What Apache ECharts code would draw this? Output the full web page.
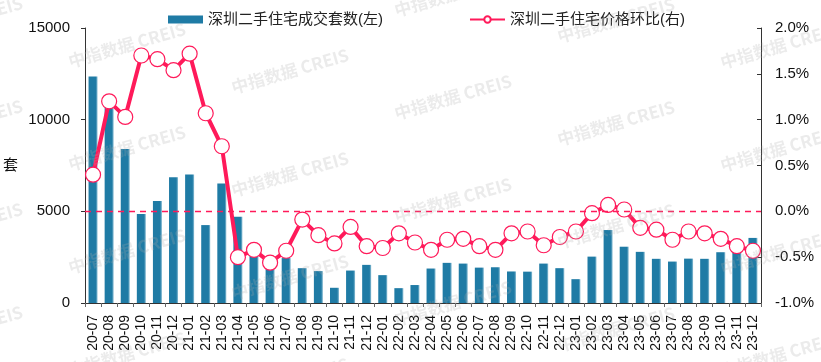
<!DOCTYPE html>
<html>
<head>
<meta charset="utf-8">
<script src="https://cdn.jsdelivr.net/npm/echarts@6/dist/echarts.min.js"></script>
<style>html,body{margin:0;padding:0;background:#fff;}#c{width:821px;height:362px;}</style>
</head>
<body>
<div id="c"></div>
<script>
var categories = ['20-07','20-08','20-09','20-10','20-11','20-12','21-01','21-02','21-03','21-04','21-05','21-06','21-07','21-08','21-09','21-10','21-11','21-12','22-01','22-02','22-03','22-04','22-05','22-06','22-07','22-08','22-09','22-10','22-11','22-12','23-01','23-02','23-03','23-04','23-05','23-06','23-07','23-08','23-09','23-10','23-11','23-12'];
var volume = [12350,11300,8400,4850,5560,6860,7010,4250,6520,4700,2650,2250,2450,1900,1740,830,1770,2080,1520,810,980,1880,2190,2150,1930,1950,1720,1710,2150,1900,1300,2530,3980,3070,2790,2410,2260,2420,2410,2770,2900,3550];
var priceMoM = [0.40,1.20,1.03,1.70,1.66,1.54,1.72,1.07,0.71,-0.50,-0.42,-0.56,-0.43,-0.09,-0.26,-0.35,-0.17,-0.38,-0.40,-0.24,-0.34,-0.42,-0.31,-0.30,-0.38,-0.42,-0.24,-0.22,-0.37,-0.28,-0.22,-0.02,0.07,0.02,-0.18,-0.20,-0.31,-0.22,-0.24,-0.30,-0.38,-0.43];
var leftTicks = [0,5000,10000,15000];
var rightTicks = [-1.0,-0.5,0,0.5,1.0,1.5,2.0];
var barName = '深圳二手住宅成交套数(左)';
var lineName = '深圳二手住宅价格环比(右)';
var watermarkText = '中指数据 CREIS';

var FONT = '"Liberation Sans", Arial, "Noto Sans CJK SC", sans-serif';
var RED = '#FF1A5A';
var chart = echarts.init(document.getElementById('c'));

var wm = [];
for (var i = -1; i <= 5; i++) {
  for (var j = -2; j <= 3; j++) {
    var cx = 127 + 163 * i, cy = 45 + 26 * i + 103 * j;
    if (cx < -60 || cx > 880 || cy < -30 || cy > 390) continue;
    wm.push({
      type: 'text', x: cx, y: cy, rotation: 16 * Math.PI / 180, z: 100, silent: true,
      style: { text: watermarkText, fill: 'rgba(170,170,170,0.24)', font: 'bold 17px "Noto Sans CJK SC", sans-serif', align: 'center', verticalAlign: 'middle' }
    });
  }
}

chart.setOption({
  animation: false,
  textStyle: { fontFamily: FONT },
  grid: { left: 80, right: 60, top: 28, bottom: 59, containLabel: false },
  legend: {
    top: 7, left: 163, itemGap: 86, itemWidth: 35, itemHeight: 8,
    textStyle: { fontSize: 15, color: '#222', fontFamily: FONT },
    data: [
      { name: barName, icon: 'rect', itemStyle: { color: '#1F7BA5' } },
      { name: lineName }
    ]
  },
  xAxis: {
    type: 'category', data: categories, boundaryGap: true,
    axisLine: { lineStyle: { color: '#333', width: 1 } },
    axisTick: { show: true, alignWithLabel: false, length: 4, lineStyle: { color: '#666' } },
    axisLabel: { rotate: 90, interval: 0, fontSize: 14, color: '#111', margin: 12, fontFamily: FONT }
  },
  yAxis: [
    {
      type: 'value', min: 0, max: 15000, interval: 5000,
      name: '套', nameLocation: 'middle', nameGap: 67, nameRotate: 0,
      nameTextStyle: { fontSize: 15, color: '#111' },
      splitLine: { show: false },
      axisLine: { show: true, lineStyle: { color: '#333' } },
      axisTick: { show: true, length: 4, lineStyle: { color: '#333' } },
      axisLabel: { fontSize: 15, color: '#111', margin: 15, fontFamily: FONT,
        formatter: function (v) { return leftTicks.indexOf(v) >= 0 ? String(v) : ''; } }
    },
    {
      type: 'value', min: -1.0, max: 2.0, interval: 0.5, position: 'right',
      splitLine: { show: false },
      axisLine: { show: true, lineStyle: { color: '#333' } },
      axisTick: { show: true, inside: true, length: 4, lineStyle: { color: '#333' } },
      axisLabel: { fontSize: 15, color: '#111', margin: 14, fontFamily: FONT,
        formatter: function (v) { return rightTicks.some(function (t) { return Math.abs(t - v) < 1e-9; }) ? v.toFixed(1) + '%' : ''; } }
    }
  ],
  series: [
    {
      name: barName, type: 'bar', yAxisIndex: 0, data: volume, barWidth: 9,
      itemStyle: {
        color: new echarts.graphic.LinearGradient(0, 0, 1, 0, [
          { offset: 0, color: '#1F7BA5' }, { offset: 0.8, color: '#1F7BA5' }, { offset: 1, color: '#8FC0D6' }
        ])
      }
    },
    {
      name: lineName, type: 'line', yAxisIndex: 1, data: priceMoM,
      symbol: 'circle', symbolSize: 15, smooth: false,
      lineStyle: { color: RED, width: 4 },
      itemStyle: { color: '#fff', borderColor: RED, borderWidth: 1.2 },
      markLine: {
        silent: true, symbol: ['none', 'none'], label: { show: false },
        emphasis: { disabled: true },
        data: [{ yAxis: 0, lineStyle: { color: RED, type: [6, 5], width: 1.3, opacity: 1 } }]
      },
      z: 3
    }
  ],
  graphic: wm
});
</script>
</body>
</html>
